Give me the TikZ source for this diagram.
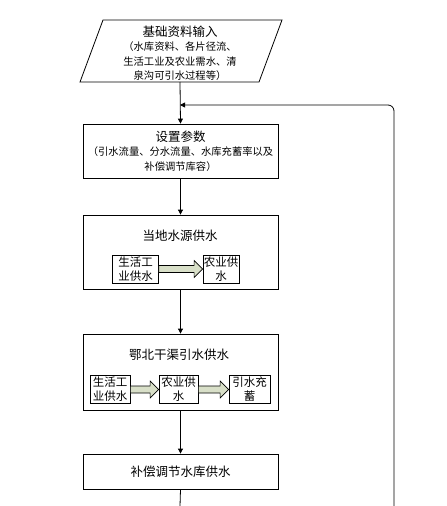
\documentclass[tikz,border=0pt]{standalone}
\usepackage{fontspec}
\setmainfont{Noto Sans CJK SC}
\usetikzlibrary{arrows.meta,calc}
\definecolor{fatfill}{RGB}{216,223,200}

\tikzset{
    flow/.style={-{Triangle[length=5pt,width=5pt]}},
    stage/.style={draw, minimum width=195, inner sep=0, align=center},
    sub/.style={draw, minimum height=28, inner sep=0, align=center,
        font=\fontsize{11.5}{14}\selectfont},
    fat/.style={draw, fill=fatfill, line width=0.6pt},
    big/.style={font=\fontsize{12.5}{15}\selectfont},
    small/.style={font=\fontsize{10.3}{14.5}\selectfont, align=center}
}
% block arrow from the east side of #1 to the west side of #2
\newcommand\fatarrow[2]{%
    \draw[fat] let \p1=(#1.east), \p2=(#2.west) in
        (\x1,\y1-3.5) -- (\x2-8.5,\y1-3.5) -- (\x2-8.5,\y1-8.5) -- (\x2,\y1)
        -- (\x2-8.5,\y1+8.5) -- (\x2-8.5,\y1+3.5) -- (\x1,\y1+3.5) -- cycle;}

\begin{document}
\begin{tikzpicture}[x=1pt, y=-1pt, line width=0.8pt]
    \useasboundingbox (0,0) rectangle (447,506);
    % input
    \draw (80,82) -- (103,20) -- (282,20) -- (259,82) -- cycle;
    \node[small] (input) at (180,53) {{\fontsize{12.5}{14}\selectfont 基础资料输入}\\（水库资料、各片径流、\\生活工业及农业需水、清\\泉沟可引水过程等）};
    \coordinate (inbot) at (180,82);
    \coordinate (join) at (180,105);
    % stages
    \node[stage, minimum height=54, small] (param) at (180.5,151) {{\fontsize{12.5}{16}\selectfont 设置参数}\\（引水流量、分水流量、水库充蓄率以及\\补偿调节库容）};
    \node[stage, minimum height=74] (local) at (180.5,252) {};
    \node[big] (localt) at (180,236) {当地水源供水};
    \node[sub, minimum width=46] (la) at (135.5,269) {生活工\\业供水};
    \node[sub, minimum width=36] (lb) at (221,269) {农业供\\水};
    \node[stage, minimum height=76] (canal) at (180.5,372) {};
    \node[big] (canalt) at (179,355) {鄂北干渠引水供水};
    \node[sub, minimum width=40] (ca) at (110,389.5) {生活工\\业供水};
    \node[sub, minimum width=39] (cb) at (178.5,389.5) {农业供\\水};
    \node[sub, minimum width=41] (cc) at (249.5,389.5) {引水充\\蓄};
    \node[stage, minimum height=35, big] (comp) at (180.5,471.5) {补偿调节水库供水};
    \coordinate (out) at (180,506);
    \coordinate (back) at (394,506);
    % block arrows
    \fatarrow{la}{lb}
    \fatarrow{ca}{cb}
    \fatarrow{cb}{cc}
    % connectors
    \draw[flow] (inbot) -- (param.north);
    \draw[flow] (param.south) -- (local.north);
    \draw[flow] (local.south) -- (canal.north);
    \draw[flow] (canal.south) -- (comp.north);
    \draw (comp.south) -- (out);
    \draw[flow, rounded corners=6] (back) |- (join);
\end{tikzpicture}
\end{document}
